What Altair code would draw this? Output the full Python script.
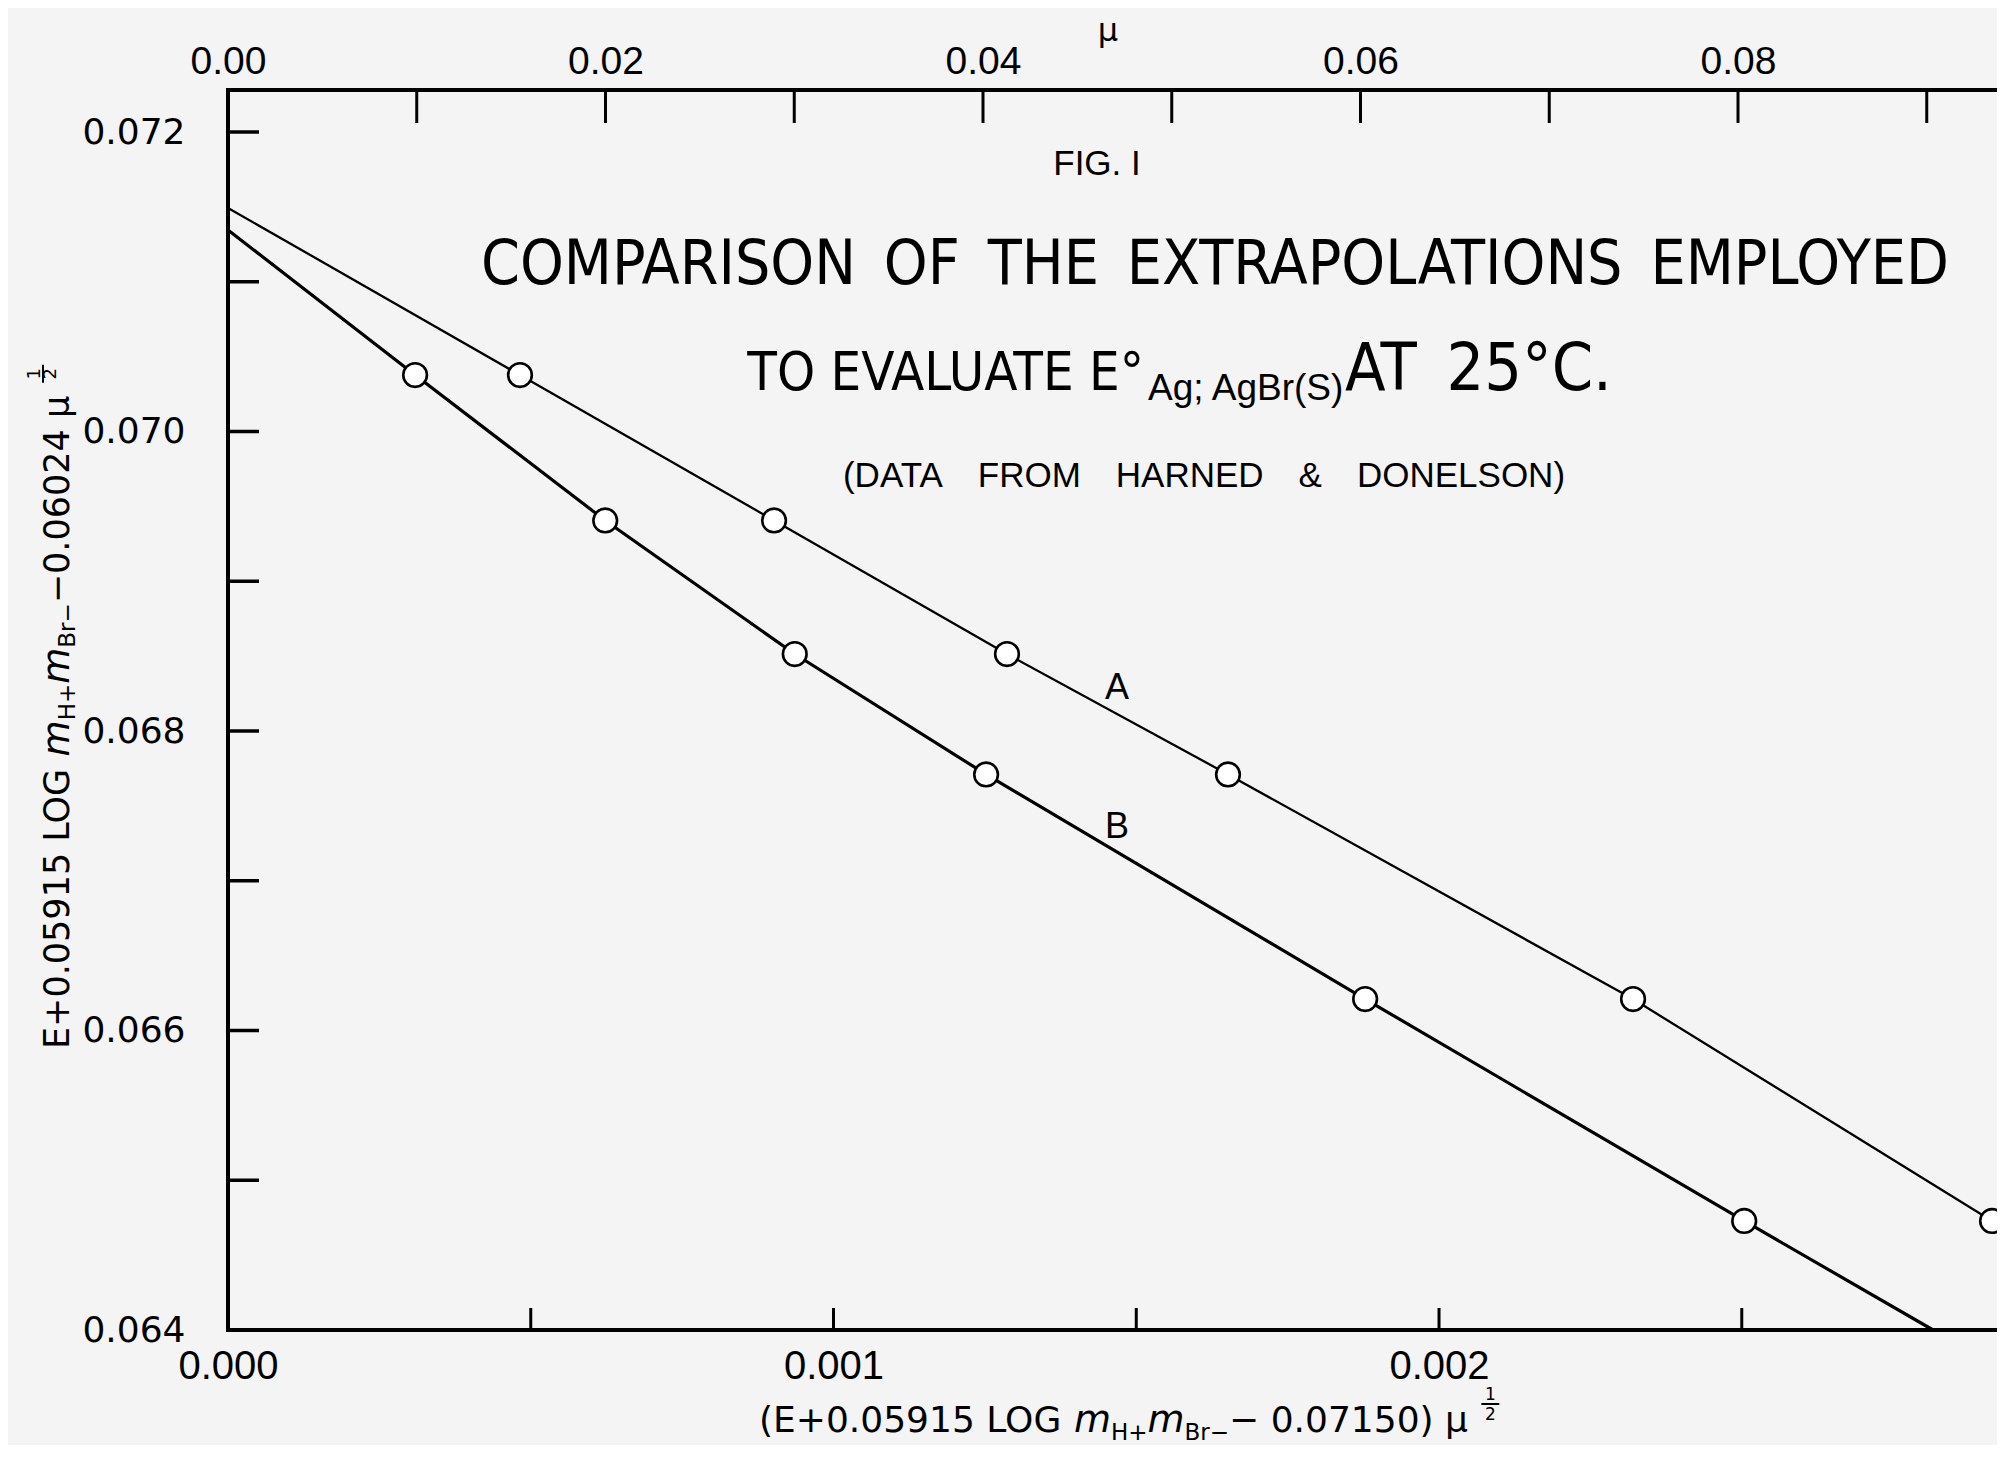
import altair as alt
import pandas as pd

# ---------------- data ----------------
# ordinate (shared): E + 0.05915 log mH+ mBr- - 0.06024 mu^1/2
y_values = [0.070377, 0.069406, 0.068514, 0.067710, 0.066210, 0.064728]
# curve A : abscissa = mu (top scale)
mu_A = [0.01547, 0.02893, 0.04127, 0.05298, 0.07444, 0.09346]
# curve B : abscissa = (E + 0.05915 log mH+ mBr- - 0.07150) mu^1/2 (bottom scale)
x_B = [0.000309, 0.000623, 0.000936, 0.001252, 0.001878, 0.002504]
# extrapolated ends of the drawn lines
A_intercept = 0.071493
B_intercept = 0.071346
B_end_x = 0.002816
B_end_y = 0.064

# axes
y_ticks = [0.064, 0.065, 0.066, 0.067, 0.068, 0.069, 0.070, 0.071, 0.072]
y_labels = [0.064, 0.066, 0.068, 0.070, 0.072]
x_ticks = [0.0005, 0.001, 0.0015, 0.002, 0.0025]
x_labels = [0.0, 0.001, 0.002]
mu_ticks = [0.01, 0.02, 0.03, 0.04, 0.05, 0.06, 0.07, 0.08, 0.09]
mu_labels = [0.0, 0.02, 0.04, 0.06, 0.08]

# ---------------- layout ----------------
PX0, PY0 = 228, 90          # page position of plot origin
W, H = 1767, 1240
XDOM = [0, 0.0029182]
MUDOM = [0, 0.093616]
YDOM = [0.064, 0.0722805]
INK = "black"
LIB = "Liberation Sans"
DV = "DejaVu Sans"
NARROW = "DejaVu Sans Condensed, Liberation Sans Narrow, Liberation Sans"

# DejaVu Sans advance widths (em/1000) for composed axis titles
WID_DV = {' ': 318, '(': 390, ')': 390, '+': 838, '−': 838, '.': 318, ';': 337,
          'E': 632, 'L': 557, 'O': 787, 'G': 776, 'H': 752, 'B': 686, 'm': 974,
          'r': 411, 'μ': 635}


def measure(s, size):
    return sum(WID_DV.get(c, 636) for c in s) / 1000.0 * size


one = pd.DataFrame({"k": [0]})


def txt(s, px, py, size, align="left", baseline="alphabetic", angle=0, style="normal",
        font=LIB):
    return alt.Chart(one).mark_text(
        text=s, fontSize=size, font=font, align=align, baseline=baseline, angle=angle,
        fontStyle=style, color=INK
    ).encode(x=alt.value(px - PX0), y=alt.value(py - PY0))


def compose(segs, px, py, vertical=False):
    """segs: (text, size, style, shift) ; shift>0 = subscript (down in text frame)"""
    out = []
    pos = 0.0
    for s, size, style, shift in segs:
        if vertical:
            out.append(txt(s, px + shift, py - pos, size, baseline="middle", angle=270,
                           style=style, font=DV))
        else:
            out.append(txt(s, px + pos, py + shift, size, style=style, font=DV))
        pos += measure(s, size)
    return out, pos


# ---------------- scales / axes ----------------
yscale = alt.Scale(domain=YDOM, nice=False, zero=False)
xscale = alt.Scale(domain=XDOM, nice=False, zero=False)
muscale = alt.Scale(domain=MUDOM, nice=False, zero=False)

common_axis = dict(ticks=False, domain=False, grid=False, title=None, labelColor=INK,
                   labelFlush=False, labelOverlap=False, labelBound=False)
y_axis = alt.Axis(orient="left", values=y_labels, format=".3f", labelFont=DV,
                  labelFontSize=36, labelPadding=43, **common_axis)
x_axis = alt.Axis(orient="bottom", values=x_labels, format=".3f", labelFont=LIB,
                  labelFontSize=40, labelPadding=16, **common_axis)
mu_axis = alt.Axis(orient="top", values=mu_labels, format=".2f", labelFont=LIB,
                   labelFontSize=39, labelPadding=9, **common_axis)


def Y(f):
    return alt.Y(f, type="quantitative", scale=yscale, axis=y_axis)


def XB(f):
    return alt.X(f, type="quantitative", scale=xscale, axis=x_axis)


def XM(f):
    return alt.X(f, type="quantitative", scale=muscale, axis=mu_axis)


# ---------------- data frames ----------------
dfB_pts = pd.DataFrame({"x": x_B, "y": y_values})
dfB_line = pd.DataFrame({"x": [0.0] + x_B + [B_end_x],
                         "y": [B_intercept] + y_values + [B_end_y]})
dfA_pts = pd.DataFrame({"mu": mu_A, "y": y_values})
dfA_line = pd.DataFrame({"mu": [0.0] + mu_A, "y": [A_intercept] + y_values})

circle = dict(shape="circle", size=560, fill="white", stroke=INK, strokeWidth=2.6,
              fillOpacity=1, strokeOpacity=1)

# frame (left, top, bottom; the right side runs off the sheet)
frame = [
    alt.Chart(one).mark_rule(color=INK, strokeWidth=4).encode(
        x=alt.value(0), y=alt.value(-2), y2=alt.value(H + 2)),
    alt.Chart(one).mark_rule(color=INK, strokeWidth=4).encode(
        y=alt.value(0), x=alt.value(0), x2=alt.value(W + 2)),
    alt.Chart(one).mark_rule(color=INK, strokeWidth=4).encode(
        y=alt.value(H), x=alt.value(0), x2=alt.value(W + 2)),
]

# bottom-scale group (curve B)
b_line = alt.Chart(dfB_line).mark_line(color=INK, strokeWidth=3.2).encode(
    x=XB("x"), y=Y("y"))
b_pts = alt.Chart(dfB_pts).mark_point(**circle).encode(x=XB("x"), y=Y("y"))
b_ticks = alt.Chart(pd.DataFrame({"v": x_ticks})).mark_rule(color=INK, strokeWidth=3).encode(
    x=XB("v"), y=alt.value(H), y2=alt.value(H - 22))
y_tk = alt.Chart(pd.DataFrame({"v": y_ticks})).mark_rule(color=INK, strokeWidth=3.5).encode(
    y=Y("v"), x=alt.value(0), x2=alt.value(31))

# mu-scale group (curve A)
a_line = alt.Chart(dfA_line).mark_line(color=INK, strokeWidth=2.3).encode(
    x=XM("mu"), y=Y("y"))
a_pts = alt.Chart(dfA_pts).mark_point(**circle).encode(x=XM("mu"), y=Y("y"))
mu_tk = alt.Chart(pd.DataFrame({"v": mu_ticks})).mark_rule(color=INK, strokeWidth=3).encode(
    x=XM("v"), y=alt.value(0), y2=alt.value(33))

# ---------------- texts ----------------
SP = "\u2002"
EM = "\u2003"
texts = []
texts.append(txt("FIG. I", 1097, 175, 35, align="center"))
texts.append(txt("COMPARISON" + SP + "OF" + SP + "THE" + SP + "EXTRAPOLATIONS" + SP + "EMPLOYED",
                 1215, 284, 62, align="center", font=NARROW))
texts.append(txt("TO EVALUATE E°", 1144, 390, 54, align="right", font=NARROW))
texts.append(txt("Ag; AgBr(S)", 1148, 400, 37))
texts.append(txt("AT" + SP + "25°C.", 1345, 390, 66, font=NARROW))
texts.append(txt("(DATA" + EM + "FROM" + EM + "HARNED" + EM + "&" + EM + "DONELSON)",
                 1204, 487, 35, align="center"))
texts.append(txt("A", 1117, 699, 36, align="center"))
texts.append(txt("B", 1117, 838, 36, align="center"))
texts.append(txt("μ", 1108, 41, 32, align="center", font=DV))

# x-axis title
xt, xw = compose([("(E+0.05915 LOG ", 36, "normal", 0), ("m", 38, "italic", 0),
                  ("H+", 23, "normal", 8), ("m", 38, "italic", 0),
                  ("Br−", 23, "normal", 8), (" − 0.07150) μ", 36, "normal", 0)],
                 759, 1432)
texts += xt
fx = 759 + xw + 11
texts.append(txt("1", fx, 1400, 17, align="center", font=DV))
texts.append(txt("2", fx, 1420, 17, align="center", font=DV))
bars = [alt.Chart(one).mark_rule(color=INK, strokeWidth=2).encode(
    x=alt.value(fx - 9 - PX0), x2=alt.value(fx + 9 - PX0), y=alt.value(1404 - PY0))]

# y-axis title (vertical, reading upward)
yt, yw = compose([("E+0.05915 LOG ", 35, "normal", 0), ("m", 37, "italic", 0),
                  ("H+", 23, "normal", 10), ("m", 37, "italic", 0),
                  ("Br−", 23, "normal", 10), (" −0.06024 μ", 35, "normal", 0)],
                 58, 1049, vertical=True)
texts += yt
fy = 1049 - yw - 11
texts.append(txt("1", 35, fy, 18, align="center", baseline="middle", angle=270, font=DV))
texts.append(txt("2", 51, fy, 18, align="center", baseline="middle", angle=270, font=DV))
bars.append(alt.Chart(one).mark_rule(color=INK, strokeWidth=2).encode(
    y=alt.value(fy - 9 - PY0), y2=alt.value(fy + 9 - PY0), x=alt.value(43 - PX0)))

groupB = alt.layer(b_line, b_ticks, y_tk, *frame, b_pts, *texts, *bars)
groupA = alt.layer(a_line, mu_tk, a_pts)

chart = alt.layer(groupB, groupA).resolve_scale(x="independent").properties(
    width=W, height=H,
    autosize=alt.AutoSizeParams(type="none"),
    padding={"left": PX0 - 8, "top": PY0 - 8, "right": 2, "bottom": 115},
    background="#f4f4f4",
).configure_view(strokeWidth=0)

chart.save("out.html", embed_options={"renderer": "svg", "actions": False})
